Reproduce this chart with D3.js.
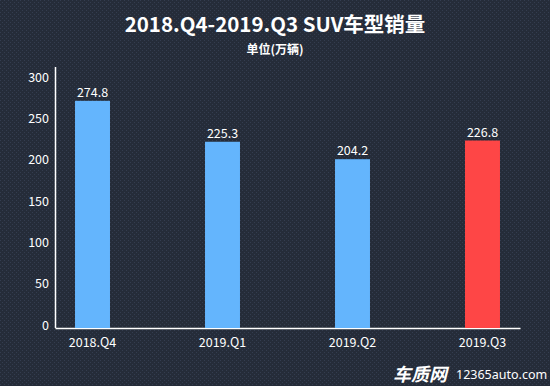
<!DOCTYPE html>
<html>
<head>
<meta charset="utf-8">
<script src="https://cdn.jsdelivr.net/npm/d3@7"></script>
<style>
  body { margin: 0; background: #262d3b; }
  svg { display: block; font-family: "Noto Sans CJK SC", "Noto Sans", sans-serif; }
</style>
</head>
<body>
<div id="chart"></div>
<script>
// chart data
var quarters = ["2018.Q4", "2019.Q1", "2019.Q2", "2019.Q3"];
var sales = [274.8, 225.3, 204.2, 226.8];
var yTicks = [0, 50, 100, 150, 200, 250, 300];

var svgWidth = 550;
var svgHeight = 386;

var margin = { top: 67, right: 30, bottom: 58, left: 55 };
var chartWidth = svgWidth - margin.left - margin.right;
var chartHeight = svgHeight - margin.top - margin.bottom;

var svg = d3.select("#chart")
  .append("svg")
  .attr("width", svgWidth)
  .attr("height", svgHeight);

// dotted dark background
var defs = svg.append("defs");
var pat = defs.append("pattern")
  .attr("id", "dots")
  .attr("width", 4)
  .attr("height", 4)
  .attr("patternUnits", "userSpaceOnUse");
pat.append("rect").attr("width", 4).attr("height", 4).attr("fill", "#252c39");
pat.append("rect").attr("x", 0).attr("y", 0).attr("width", 1).attr("height", 1).attr("fill", "#343d4f");
pat.append("rect").attr("x", 2).attr("y", 2).attr("width", 1).attr("height", 1).attr("fill", "#343d4f");

svg.append("rect")
  .attr("width", svgWidth)
  .attr("height", svgHeight)
  .attr("fill", "url(#dots)");

// titles
svg.append("text")
  .attr("x", 275)
  .attr("y", 32)
  .attr("text-anchor", "middle")
  .attr("fill", "#ffffff")
  .attr("font-size", 20.5)
  .attr("font-weight", "bold")
  .text("2018.Q4-2019.Q3 SUV车型销量");

svg.append("text")
  .attr("x", 275)
  .attr("y", 54)
  .attr("text-anchor", "middle")
  .attr("fill", "#ffffff")
  .attr("font-size", 12)
  .attr("font-weight", "bold")
  .text("单位(万辆)");

var chartGroup = svg.append("g")
  .attr("transform", `translate(${margin.left}, ${margin.top})`);

// scales
var xBandScale = d3.scaleBand()
  .domain(quarters)
  .range([0, chartWidth])
  .paddingInner(0.731)
  .paddingOuter(0.154);

var yLinearScale = d3.scaleLinear()
  .domain([0, 300])
  .range([chartHeight, 13]);

var bottomAxis = d3.axisBottom(xBandScale).tickSize(0).tickPadding(10);
var leftAxis = d3.axisLeft(yLinearScale).tickValues(yTicks).tickSize(0).tickPadding(6);

var xAxisG = chartGroup.append("g")
  .attr("transform", `translate(0, ${chartHeight})`)
  .call(bottomAxis);

var yAxisG = chartGroup.append("g")
  .call(leftAxis);

yAxisG.select(".domain").attr("d", `M0.5,0V${chartHeight}`);

[xAxisG, yAxisG].forEach(function(g) {
  g.select(".domain").attr("stroke", "#ffffff").attr("stroke-width", 1.5);
  g.selectAll("text")
    .attr("fill", "#ffffff")
    .attr("font-size", 12.5)
    .attr("font-family", "\"Noto Sans CJK SC\", sans-serif");
});
yAxisG.selectAll("text").attr("dy", "0.1em");

// bars
chartGroup.selectAll(".bar")
  .data(sales)
  .enter()
  .append("rect")
  .attr("class", "bar")
  .attr("x", (d, i) => xBandScale(quarters[i]))
  .attr("y", d => yLinearScale(d))
  .attr("width", xBandScale.bandwidth())
  .attr("height", d => chartHeight - yLinearScale(d))
  .attr("fill", (d, i) => i === quarters.length - 1 ? "#fe4646" : "#64b5fd");

// value labels
chartGroup.selectAll(".val")
  .data(sales)
  .enter()
  .append("text")
  .attr("class", "val")
  .attr("x", (d, i) => xBandScale(quarters[i]) + xBandScale.bandwidth() / 2)
  .attr("y", d => yLinearScale(d) - 4)
  .attr("text-anchor", "middle")
  .attr("fill", "#ffffff")
  .attr("font-size", 12.5)
  .text(d => d.toFixed(1));

// watermark
var wm = svg.append("g").attr("transform", "translate(393, 381)");
wm.append("text")
  .attr("x", 0)
  .attr("y", 0)
  .attr("fill", "#ffffff")
  .attr("font-size", 18)
  .attr("font-weight", "bold")
  .attr("font-style", "italic")
  .text("车质网");
wm.append("text")
  .attr("x", 63)
  .attr("y", -2)
  .attr("fill", "#ffffff")
  .attr("font-size", 12.5)
  .attr("font-family", "\"Noto Sans\", sans-serif")
  .text("12365auto.com");
</script>
</body>
</html>
